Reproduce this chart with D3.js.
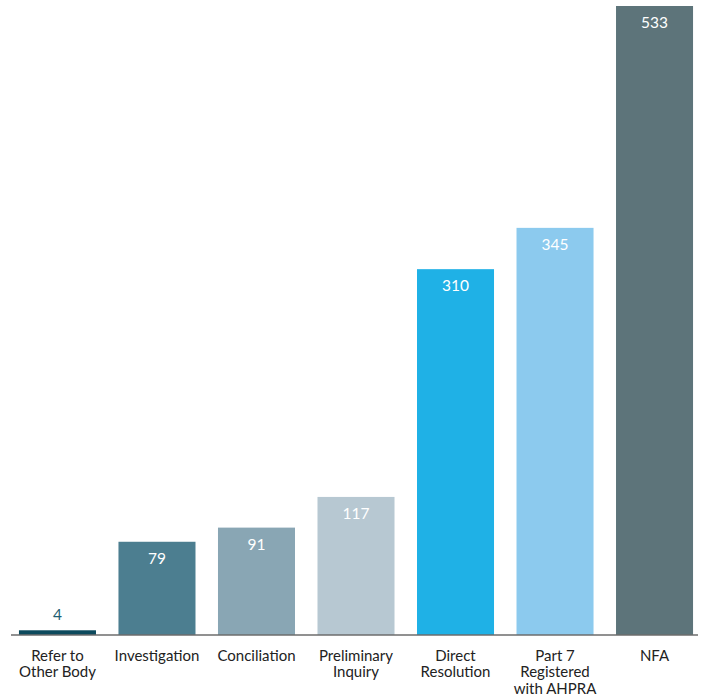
<!DOCTYPE html>
<html>
<head>
<meta charset="utf-8">
<script src="https://cdn.jsdelivr.net/npm/d3@7"></script>
<style>
  html, body { margin: 0; padding: 0; background: #fff; }
  svg { display: block; font-family: Lato, "Open Sans", sans-serif; }
</style>
</head>
<body>
<svg id="chart" width="703" height="695"></svg>
<script>
// Outcomes by category
const categories = [
  ["Refer to", "Other Body"],
  ["Investigation"],
  ["Conciliation"],
  ["Preliminary", "Inquiry"],
  ["Direct", "Resolution"],
  ["Part 7", "Registered", "with AHPRA"],
  ["NFA"]
];
const values = [4, 79, 91, 117, 310, 345, 533];
const barColors = ["#0c4a5d", "#4c7e90", "#89a6b4", "#b7c8d2", "#1fb1e6", "#8ccaee", "#5d747a"];

const svg = d3.select("#chart");
const baseline = 635;
const keys = categories.map((c, i) => i);

const x = d3.scaleBand()
  .domain(keys)
  .range([11, 701])
  .paddingInner(0.226)
  .paddingOuter(0.08);

const y = d3.scaleLinear()
  .domain([0, 533])
  .range([baseline, 6]);

// bars
svg.append("g").selectAll("rect")
  .data(values)
  .join("rect")
  .attr("x", (d, i) => x(i))
  .attr("width", x.bandwidth())
  .attr("y", d => y(d))
  .attr("height", d => baseline - y(d))
  .attr("fill", (d, i) => barColors[i]);

// value labels: inside the bar top, or above it when the bar is too short
svg.append("g").selectAll("text")
  .data(values)
  .join("text")
  .attr("x", (d, i) => x(i) + x.bandwidth() / 2)
  .attr("y", d => (baseline - y(d) > 30) ? y(d) + 22 : y(d) - 10)
  .attr("text-anchor", "middle")
  .attr("font-size", 15.5)
  .attr("fill", d => (baseline - y(d) > 30) ? "#ffffff" : "#1f5f73")
  .text(d => d);

// baseline axis
const axis = d3.axisBottom(x).tickSize(0).tickFormat("");
const axisG = svg.append("g")
  .attr("transform", `translate(0,${baseline})`)
  .call(axis);
axisG.select(".domain").remove();
axisG.append("line")
  .attr("x1", 11).attr("x2", 698)
  .attr("y1", 0).attr("y2", 0)
  .attr("stroke", "#6d6d6d")
  .attr("stroke-width", 1.3);

// category labels
const lab = svg.append("g").selectAll("text")
  .data(categories)
  .join("text")
  .attr("x", (d, i) => x(i) + x.bandwidth() / 2)
  .attr("y", 661)
  .attr("text-anchor", "middle")
  .attr("font-size", 15)
  .attr("fill", "#222");
lab.selectAll("tspan")
  .data(d => d)
  .join("tspan")
  .attr("x", function () { return d3.select(this.parentNode).attr("x"); })
  .attr("dy", (d, j) => j === 0 ? 0 : 16.3)
  .text(d => d);
</script>
</body>
</html>
